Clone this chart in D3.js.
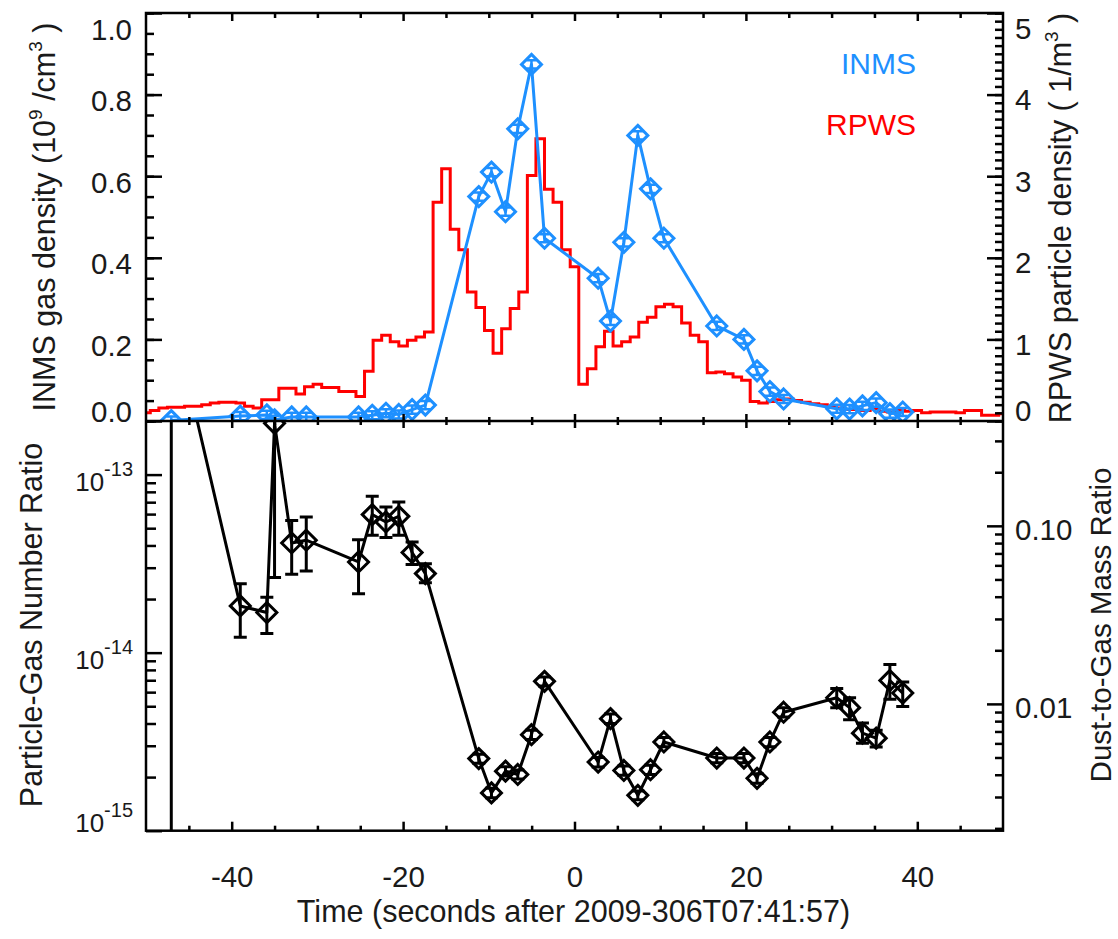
<!DOCTYPE html>
<html><head><meta charset="utf-8">
<script src="https://cdn.jsdelivr.net/npm/d3@7"></script>
<style>
body{margin:0;background:#fff}
svg{display:block}
text{font-family:"Liberation Sans",Arial,Helvetica,sans-serif;fill:#1a1a1a}
</style>
</head><body>
<svg id="c" width="1118" height="939"></svg>
<script>
// ---------------- data ----------------
const rpwsTime = [-50,-49,-48,-47,-46,-45,-44,-43,-42,-41,-40,-39,-38,-37,-36,-35,-34,-33,-32,-31,
  -30,-29,-28,-27,-26,-25,-24,-23,-22,-21,-20,-19,-18,-17,-16,-15,-14,-13,-12,-11,
  -10,-9,-8,-7,-6,-5,-4,-3,-2,-1,0,1,2,3,4,5,6,7,8,9,
  10,11,12,13,14,15,16,17,18,19,20,21,22,23,24,25,26,27,28,29,
  30,31,32,33,34,35,36,37,38,39,40,41,42,43,44,45,46,47,48,49,50];
const rpwsDensity = [0.10,0.13,0.16,0.17,0.17,0.18,0.18,0.20,0.22,0.23,0.23,0.22,0.18,0.16,0.26,0.26,0.40,0.40,0.33,0.42,
  0.45,0.41,0.41,0.36,0.36,0.30,0.61,0.99,1.05,0.97,0.92,0.99,1.03,1.09,2.68,3.09,2.35,2.10,1.58,1.39,
  1.11,0.83,1.13,1.38,1.58,3.01,3.46,2.84,2.68,2.10,1.89,0.45,0.64,0.91,1.10,0.92,0.97,1.03,1.21,1.27,
  1.40,1.43,1.40,1.20,1.05,0.97,0.59,0.60,0.58,0.54,0.50,0.24,0.22,0.24,0.26,0.27,0.25,0.23,0.21,0.20,
  0.17,0.16,0.14,0.14,0.13,0.15,0.12,0.11,0.13,0.12,0.13,0.10,0.11,0.11,0.11,0.10,0.13,0.13,0.07,0.07,0.09];

const inmsTime = [-47.05,-39.0,-35.9,-35.0,-33.0,-31.3,-25.2,-23.6,-22.0,-20.5,-18.95,-17.4,
  -11.17,-9.69,-8.05,-6.62,-5.02,-3.5,2.76,4.2,5.76,7.39,8.87,10.43,16.6,19.77,21.3,22.8,24.4,
  30.6,32.1,33.6,35.2,36.8,38.3];
const inmsDensity = [0.001,0.012,0.015,0.003,0.010,0.010,0.010,0.014,0.019,0.016,0.028,0.039,
  0.55,0.61,0.513,0.716,0.874,0.448,0.35,0.245,0.438,0.70,0.569,0.448,0.233,0.20,0.123,0.072,0.054,
  0.030,0.029,0.037,0.045,0.018,0.022];
const inmsError = [0.01,0.01,0.01,0.01,0.01,0.01,0.01,0.01,0.01,0.01,0.01,0.01,
  0.01,0.01,0.01,0.01,0.01,0.01,0.01,0.01,0.01,0.01,0.01,0.01,0.01,0.01,0.01,0.01,0.01,
  0.01,0.01,0.01,0.01,0.01,0.01];

const ratioTime = [-47.05,-39.0,-35.9,-35.0,-33.0,-31.3,-25.2,-23.6,-22.0,-20.5,-18.95,-17.4,
  -11.17,-9.69,-8.05,-6.62,-5.02,-3.5,2.76,4.2,5.76,7.39,8.87,10.43,16.6,19.77,21.3,22.8,24.4,
  30.6,32.1,33.6,35.2,36.8,38.3];
const ratioValue = [8.45e-13,1.83e-14,1.68e-14,1.94e-13,4.13e-14,4.28e-14,3.23e-14,5.96e-14,5.42e-14,5.83e-14,3.65e-14,2.78e-14,
  2.54e-15,1.63e-15,2.16e-15,2.07e-15,3.46e-15,6.9e-15,2.43e-15,4.26e-15,2.18e-15,1.58e-15,2.2e-15,3.15e-15,2.56e-15,2.56e-15,1.97e-15,3.15e-15,4.63e-15,
  5.58e-15,4.91e-15,3.53e-15,3.31e-15,6.98e-15,5.93e-15];
const ratioHigh = [5e-12,2.44e-14,2.05e-14,5e-13,5.53e-14,5.78e-14,4.31e-14,7.55e-14,6.58e-14,7.02e-14,4.18e-14,3.16e-14,
  2.69e-15,1.73e-15,2.29e-15,2.19e-15,3.67e-15,7.31e-15,2.58e-15,4.52e-15,2.31e-15,1.67e-15,2.33e-15,3.34e-15,2.71e-15,2.71e-15,2.09e-15,3.34e-15,4.91e-15,
  6.28e-15,5.58e-15,4.02e-15,3.66e-15,8.57e-15,6.84e-15];
const ratioLow = [1e-17,1.22e-14,1.28e-14,2.64e-14,2.76e-14,2.87e-14,2.14e-14,4.56e-14,4.43e-14,4.56e-14,3.13e-14,2.47e-14,
  2.39e-15,1.53e-15,2.03e-15,1.95e-15,3.25e-15,6.49e-15,2.28e-15,4.00e-15,2.05e-15,1.49e-15,2.07e-15,2.96e-15,2.41e-15,2.41e-15,1.85e-15,2.96e-15,4.35e-15,
  4.91e-15,4.2e-15,3.1e-15,2.95e-15,5.47e-15,4.99e-15];

const xMajorTicks = [-40,-20,0,20,40];
const xMinorTicks = [-45,-35,-30,-25,-15,-10,-5,5,10,15,25,30,35,45];
const xTickLabels = ["-40","-20","0","20","40"];
const inmsMajorTicks = [0,0.2,0.4,0.6,0.8,1.0];
const inmsTickLabels = ["0.0","0.2","0.4","0.6","0.8","1.0"];
const rpwsMajorTicks = [0,1,2,3,4,5];
const rpwsTickLabels = ["0","1","2","3","4","5"];
const ratioMajorTicks = [1e-15,1e-14,1e-13];
const ratioTickExponents = ["-15","-14","-13"];
const massMajorTicks = [0.01,0.1];
const massTickLabels = ["0.01","0.10"];

// ---------------- layout ----------------
const L = 146, R = 1003, T = 13, M = 421, B = 830.7;
const BLUE = "#1e90ff", RED = "#ff0000";
const svg = d3.select("#c");

const x = d3.scaleLinear().domain([-50,50]).range([L,R]);
const yInms = d3.scaleLinear().domain([0,1]).range([M,T]);
const yRpws = d3.scaleLinear().domain([0,5]).range([M,T]);
const yRatio = d3.scaleLog().domain([1e-15,2.0e-13]).range([B,M]);
const yMass = d3.scaleLog().domain([0.00194,0.388]).range([B,M]);

const defs = svg.append("defs");
defs.append("clipPath").attr("id","clipTop").append("rect")
  .attr("x",L).attr("y",T).attr("width",R-L).attr("height",M-T);
defs.append("clipPath").attr("id","clipBot").append("rect")
  .attr("x",L).attr("y",M).attr("width",R-L).attr("height",B-M);

const diamond = r => `M0,${-r}L${r},0L0,${r}L${-r},0Z`;

// ---------------- top panel ----------------
const topG = svg.append("g").attr("clip-path","url(#clipTop)");
topG.append("path").datum(rpwsTime.map((t,i)=>[t,rpwsDensity[i]]))
  .attr("fill","none").attr("stroke",RED).attr("stroke-width",3)
  .attr("d", d3.line().x(d=>x(d[0])).y(d=>yRpws(d[1])).curve(d3.curveStep));

const inms = inmsTime.map((t,i)=>({t, v:inmsDensity[i], e:inmsError[i]}));
topG.append("path").datum(inms)
  .attr("fill","none").attr("stroke",BLUE).attr("stroke-width",3).attr("stroke-linejoin","round")
  .attr("d", d3.line().x(d=>x(d.t)).y(d=>yInms(d.v)));
const ig = topG.selectAll("g.im").data(inms).join("g").attr("class","im")
  .attr("transform", d=>`translate(${x(d.t)},${yInms(d.v)})`);
ig.append("path").attr("d",diamond(10)).attr("fill","none").attr("stroke",BLUE).attr("stroke-width",3);
ig.append("path").attr("fill","none").attr("stroke",BLUE).attr("stroke-width",2.5)
  .attr("d", d=>{const a=yInms(d.v+d.e)-yInms(d.v), b=yInms(d.v-d.e)-yInms(d.v);
    return `M0,${a}V${b}M-5,${a}H5M-5,${b}H5`;});

// legend
svg.append("text").attr("x",916).attr("y",74).attr("text-anchor","end")
  .style("font-size","30px").style("fill",BLUE).text("INMS");
svg.append("text").attr("x",916).attr("y",135).attr("text-anchor","end")
  .style("font-size","30px").style("fill",RED).text("RPWS");

// ---------------- bottom panel ----------------
const botG = svg.append("g").attr("clip-path","url(#clipBot)");
const ratio = ratioTime.map((t,i)=>({t, v:ratioValue[i], lo:ratioLow[i], hi:ratioHigh[i]}));
botG.append("path").datum(ratio)
  .attr("fill","none").attr("stroke","#000").attr("stroke-width",3).attr("stroke-linejoin","round")
  .attr("d", d3.line().x(d=>x(d.t)).y(d=>yRatio(d.v)));
botG.selectAll("path.eb").data(ratio).join("path").attr("class","eb")
  .attr("fill","none").attr("stroke","#000").attr("stroke-width",3)
  .attr("d", d=>{const cx=x(d.t), a=yRatio(d.hi), b=yRatio(d.lo);
    return `M${cx},${a}V${b}M${cx-6.5},${a}H${cx+6.5}M${cx-6.5},${b}H${cx+6.5}`;});
botG.selectAll("path.dm").data(ratio).join("path").attr("class","dm")
  .attr("transform", d=>`translate(${x(d.t)},${yRatio(d.v)})`)
  .attr("d",diamond(10)).attr("fill","none").attr("stroke","#000").attr("stroke-width",3);

// ---------------- axes ----------------
function clean(g){ g.select(".domain").remove();
  g.selectAll(".tick line").attr("stroke","#000").attr("stroke-width",2.5); }
const FS = "29.5px";

// x axes
function xAxes(y, orientTop, withLabels, majLen, minLen){
  const mk = orientTop ? d3.axisTop : d3.axisBottom;
  const g1 = svg.append("g").attr("transform",`translate(0,${y})`)
    .call(mk(x).tickValues(xMinorTicks).tickSizeInner(-minLen).tickSizeOuter(0).tickFormat(""));
  clean(g1); g1.selectAll("text").remove();
  const g2 = svg.append("g").attr("transform",`translate(0,${y})`)
    .call(mk(x).tickValues(xMajorTicks).tickSizeInner(-majLen).tickSizeOuter(0)
      .tickFormat((d,i)=>xTickLabels[i]));
  clean(g2);
  if(!withLabels) g2.selectAll("text").remove();
  else g2.selectAll("text").attr("y",56).attr("dy",null).style("font-size",FS).style("fill","#1a1a1a");
}
xAxes(T, true, false, 8, 5);
xAxes(M, false, false, 7, 4);
xAxes(M, true, false, 7, 4);
xAxes(B, false, true, 9, 5);

// top left
{
  const g1 = svg.append("g").attr("transform",`translate(${L},0)`)
    .call(d3.axisLeft(yInms).tickValues(d3.range(0,1.0001,0.05)).tickSizeInner(-8).tickSizeOuter(0).tickFormat(""));
  clean(g1); g1.selectAll("text").remove();
  const g2 = svg.append("g").attr("transform",`translate(${L},0)`)
    .call(d3.axisLeft(yInms).tickValues(inmsMajorTicks).tickSizeInner(-16).tickSizeOuter(0).tickPadding(14)
      .tickFormat((d,i)=>inmsTickLabels[i]));
  clean(g2);
  g2.selectAll("text").attr("dy",null).style("font-size",FS).style("fill","#1a1a1a")
    .attr("y", d=> d===1 ? 26 : d===0 ? 0 : 16);
}
// top right
{
  const g1 = svg.append("g").attr("transform",`translate(${R},0)`)
    .call(d3.axisRight(yRpws).tickValues(d3.range(0,5.0001,0.1)).tickSizeInner(-8).tickSizeOuter(0).tickFormat(""));
  clean(g1); g1.selectAll("text").remove();
  const g2 = svg.append("g").attr("transform",`translate(${R},0)`)
    .call(d3.axisRight(yRpws).tickValues(rpwsMajorTicks).tickSizeInner(-16).tickSizeOuter(0).tickPadding(12)
      .tickFormat((d,i)=>rpwsTickLabels[i]));
  clean(g2);
  g2.selectAll("text").attr("dy",null).style("font-size",FS).style("fill","#1a1a1a")
    .attr("y", d=> d===5 ? 25 : d===0 ? -1 : 15);
}
// bottom left (log)
{
  const g1 = svg.append("g").attr("transform",`translate(${L},0)`)
    .call(d3.axisLeft(yRatio).tickValues(yRatio.ticks().filter(v=>!ratioMajorTicks.some(m=>Math.abs(v/m-1)<1e-6)))
      .tickSizeInner(-10).tickSizeOuter(0).tickFormat(""));
  clean(g1); g1.selectAll("text").remove();
  const g2 = svg.append("g").attr("transform",`translate(${L},0)`)
    .call(d3.axisLeft(yRatio).tickValues(ratioMajorTicks).tickSizeInner(-16).tickSizeOuter(0).tickPadding(13)
      .tickFormat(""));
  clean(g2);
  g2.selectAll("text").attr("dy",null).style("font-size","26px").style("fill","#1a1a1a")
    .attr("y", d=> d===1e-15 ? 1 : 16)
    .each(function(d,i){
      const t = d3.select(this);
      t.append("tspan").text("10");
      t.append("tspan").attr("dy",-15).style("font-size","20px").text(ratioTickExponents[i]);
    });
}
// bottom right (log)
{
  const g1 = svg.append("g").attr("transform",`translate(${R},0)`)
    .call(d3.axisRight(yMass).tickValues(yMass.ticks().filter(v=>!massMajorTicks.some(m=>Math.abs(v/m-1)<1e-6)))
      .tickSizeInner(-8).tickSizeOuter(0).tickFormat(""));
  clean(g1); g1.selectAll("text").remove();
  const g2 = svg.append("g").attr("transform",`translate(${R},0)`)
    .call(d3.axisRight(yMass).tickValues(massMajorTicks).tickSizeInner(-16).tickSizeOuter(0).tickPadding(12)
      .tickFormat((d,i)=>massTickLabels[i]));
  clean(g2);
  g2.selectAll("text").attr("dy",null).style("font-size",FS).style("fill","#1a1a1a").attr("y",14);
}

// frames
svg.append("rect").attr("x",L).attr("y",T).attr("width",R-L).attr("height",B-T)
  .attr("fill","none").attr("stroke","#000").attr("stroke-width",2.5);
svg.append("line").attr("x1",L).attr("x2",R).attr("y1",M).attr("y2",M)
  .attr("stroke","#000").attr("stroke-width",2.5);

// ---------------- titles ----------------
const TFS = "30.5px";
function vtitle(xb, yc, parts, fs){
  const t = svg.append("text").attr("transform",`translate(${xb},${yc}) rotate(-90)`)
    .attr("text-anchor","middle").style("font-size",fs||TFS);
  parts.forEach(p=>{
    const s = t.append("tspan").text(p.s);
    if(p.sup){ s.attr("dy",-13).style("font-size","19px"); }
    if(p.down){ s.attr("dy",13); }
  });
}
vtitle(55, 217, [{s:"INMS gas density (10"},{s:"9",sup:1},{s:" /cm",down:1},{s:"3",sup:1},{s:" )",down:1}]);
vtitle(1071, 218, [{s:"RPWS particle density ( 1/m"},{s:"3",sup:1},{s:" )",down:1}]);
vtitle(41.5, 625, [{s:"Particle-Gas Number Ratio"}]);
vtitle(1111, 625, [{s:"Dust-to-Gas Mass Ratio"}], "29.5px");
svg.append("text").attr("x",573.5).attr("y",922).attr("text-anchor","middle")
  .style("font-size",TFS).text("Time (seconds after 2009-306T07:41:57)");
</script>
</body></html>
